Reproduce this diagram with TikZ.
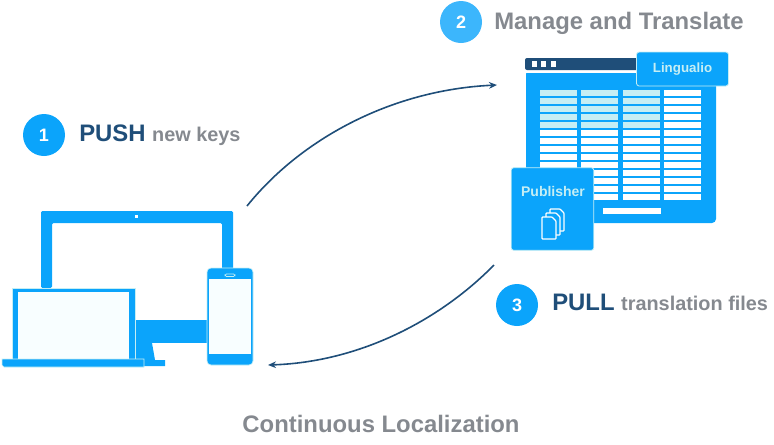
\documentclass[tikz,border=0pt]{standalone}
\usepackage{fontspec}
\setmainfont{Liberation Sans}
\usetikzlibrary{arrows.meta}
\definecolor{appblue}{HTML}{0BA4FB}
\definecolor{navy}{HTML}{1F4E79}
\definecolor{labelgray}{HTML}{85898F}
\definecolor{rowcyan}{HTML}{C5EEF4}
\definecolor{screenwhite}{HTML}{F8FEFF}
\begin{document}
\begin{tikzpicture}[x=0.75pt,y=-0.75pt]

    \tikzset{
      badge/.style={
        circle,
        fill=appblue,
        text=white,
        inner sep=0pt,
        minimum size=31.5pt,
        font=\fontsize{13.5}{15}\selectfont\bfseries,
      },
      headline/.style={
        anchor=base west,
        inner sep=0pt,
        text=labelgray,
        font=\fontsize{17.9}{20}\selectfont\bfseries,
      },
      callbox/.style={
        draw=rowcyan,
        fill=appblue,
        rounded corners=2pt,
        text=rowcyan,
        inner sep=0pt,
        line width=0.6pt,
      },
      device/.style={
        fill=appblue,
        draw=rowcyan,
        line width=0.5pt,
      },
      flow/.style={
        navy,
        line width=1.2pt,
        -{Stealth[length=6pt,width=5pt]},
      },
    }
    \useasboundingbox (0,0) rectangle (774,444);

    % monitor
    \fill[appblue,rounded corners=1pt] (41,288)--(41,211)--(233,211)--(233,270)--(222,270)--(222,223)--(52,223)--(52,288)--cycle;
    \fill[white] (135,215) rectangle (138,218);
    \fill[appblue] (136,320) rectangle (207,343);
    \fill[appblue] (136,343)--(152,343)--(155,360)--(165,360)--(165,366)--(136,366)--cycle;

    % laptop
    \draw[device] (12,288) rectangle (135,360);
    \fill[screenwhite] (18,292) rectangle (129,360);
    \draw[device] (2,359)--(144,359)--(144,367)--(4,367)--(2,365)--cycle;

    % phone
    \draw[device,rounded corners=3pt] (207,268) rectangle (253,365);
    \fill[screenwhite] (209,279) rectangle (251,354);
    \draw[rowcyan,fill=appblue,line width=0.6pt,rounded corners=1pt] (225,274) rectangle (235,276.5);

    % translation window
    \fill[appblue,rounded corners=3pt] (526,70) rectangle (716,223);
    \fill[white] (526,70) rectangle (640,73);
    \fill[navy,rounded corners=1.5pt] (525,58) rectangle (640,70);
    \foreach \dotx in {532,541,551}
      \fill[white] (\dotx,61) rectangle ++(5,6);
    \foreach \colx in {540,581,623,664}
      \foreach \rowy in {90,98,...,194}
        \fill[white] (\colx,\rowy) rectangle ++(37,6);
    \foreach \colx in {540,581,623}
      \foreach \rowy in {90,98,...,122}
        \fill[rowcyan] (\colx,\rowy) rectangle ++(37,6);
    \fill[white] (603,208) rectangle (661,214);

    \node[callbox,minimum width=69pt,minimum height=25.5pt,
      font=\fontsize{10}{12}\selectfont\bfseries] (lingualio) at (682.5,69) {Lingualio};

    \node[callbox,minimum width=62pt,minimum height=62pt] (publisher) at (552.5,209) {};
    \node[text=rowcyan,inner sep=0pt,font=\fontsize{10.5}{12}\selectfont\bfseries] (publishertext) at (553,191) {Publisher};

    % stack of pages
    \foreach \pagex/\pagey in {550/209,546/213,542/217}
      \draw[white,fill=appblue,line width=0.9pt,rounded corners=0.5pt]
        (\pagex,\pagey) -- ++(10,0) -- ++(4,4) -- ++(0,18) -- ++(-14,0) -- cycle;

    % steps
    \node[badge] (stepone) at (44,135) {1};
    \node[headline] (pushtext) at (79,141) {{\color{navy}PUSH} {\fontsize{14.9}{17}\selectfont new keys}};

    \node[badge,fill=appblue!80!white] (steptwo) at (461,22) {2};
    \node[headline] (managetext) at (494,29) {Manage and Translate};

    \node[badge] (stepthree) at (517,305) {3};
    \node[headline] (pulltext) at (552,310) {{\color{navy}PULL} {\fontsize{14.9}{17}\selectfont translation files}};

    \node[headline,anchor=base] (title) at (381,432) {Continuous Localization};

    % connectors
    \coordinate (pushfrom) at (247,206);
    \coordinate (pushto) at (497,85);
    \coordinate (pullfrom) at (494,265);
    \coordinate (pullto) at (268,365);
    \draw[flow] (pushfrom) .. controls (300,140) and (390,90) .. (pushto);
    \draw[flow] (pullfrom) .. controls (440,320) and (360,362) .. (pullto);

\end{tikzpicture}
\end{document}
